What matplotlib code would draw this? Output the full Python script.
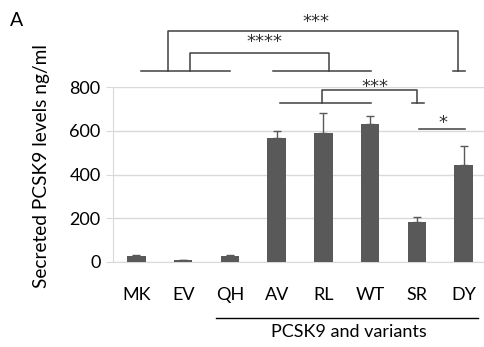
import matplotlib
matplotlib.use('Agg')
import matplotlib.pyplot as plt
import numpy as np

# data
categories = ['MK', 'EV', 'QH', 'AV', 'RL', 'WT', 'SR', 'DY']
values = [27, 8, 26, 569, 590, 633, 184, 443]
errors = [4, 3, 4, 28, 93, 35, 20, 88]
y_ticks = [0, 200, 400, 600, 800]

plt.rcParams['font.family'] = ['Lato', 'DejaVu Sans']

fig = plt.figure(figsize=(4.84, 3.47), dpi=100)
ax = fig.add_axes([113 / 484, 1 - 262 / 347, 374 / 484, 175 / 347])

x = np.arange(len(categories))
ax.bar(x, values, width=0.4, color='#595959', zorder=3)
ax.errorbar(x, values, yerr=[np.zeros(len(errors)), errors], fmt='none',
            ecolor='#595959', elinewidth=1, capsize=3, capthick=1, zorder=4)

ax.set_xlim(-0.5, 7.5)
ax.set_ylim(0, 800)
ax.set_yticks(y_ticks)
ax.set_xticks(x)
ax.set_xticklabels(categories)
ax.tick_params(axis='x', length=0, pad=18, labelsize=13)
ax.tick_params(axis='y', length=5, color='#d9d9d9', labelsize=13, pad=4)
ax.yaxis.grid(True, color='#d9d9d9', linewidth=1, zorder=0)
for s in ['top', 'right']:
    ax.spines[s].set_visible(False)
ax.spines['left'].set_color('#d9d9d9')
ax.spines['bottom'].set_color('#d9d9d9')

# y label placed by hand
fig.text(42 / 484, 1 - 166 / 347, 'Secreted PCSK9 levels ng/ml', rotation=90,
         ha='center', va='center', fontsize=13.8)

lc = '#404040'
kw = dict(color=lc, linewidth=1.1, clip_on=False, zorder=5)
star = dict(ha='center', va='center', fontsize=13, family='DejaVu Sans', color='#303030')

# group lines
ax.plot([0.1, 2.0], [873, 873], **kw)
ax.plot([2.93, 5.01], [873, 873], **kw)
# outer *** bracket
ax.plot([0.68, 0.68, 6.88, 6.88], [873, 1056, 1056, 873], **kw)
ax.plot([6.77, 7.03], [873, 873], **kw)
ax.text(3.85, 1095, '***', **star)
# **** bracket
ax.plot([1.15, 1.15, 4.11, 4.11], [873, 955, 955, 873], **kw)
ax.text(2.75, 1005, '****', **star)
# inner *** bracket
ax.plot([3.08, 5.01], [727, 727], **kw)
ax.plot([3.98, 3.98, 6.0, 6.0], [727, 786, 786, 727], **kw)
ax.plot([5.89, 6.15], [727, 727], **kw)
ax.text(5.1, 800, '***', **star)
# * line
ax.plot([6.04, 7.03], [608, 608], **kw)
ax.text(6.55, 635, '*', **star)

# bottom group label
ax.plot([1.71, 7.31], [-256, -256], color='black', linewidth=1, clip_on=False)
ax.text(4.55, -322, 'PCSK9 and variants', ha='center', va='center', fontsize=13)

fig.text(17 / 484, 1 - 20 / 347, 'A', ha='center', va='center', fontsize=14)

fig.savefig('out.png', dpi=100)
